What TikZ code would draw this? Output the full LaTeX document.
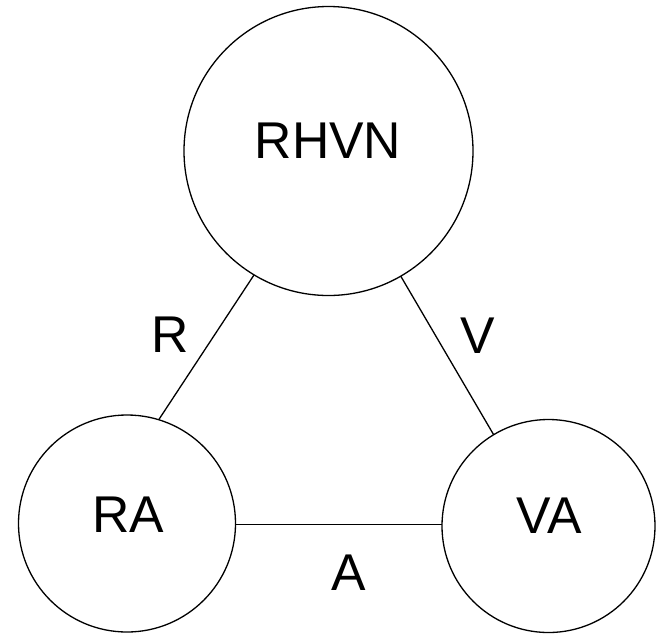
\documentclass[tikz,border=0pt]{standalone}
\usepackage{fontspec}
\setmainfont{Liberation Sans}
\begin{document}
\begin{tikzpicture}[x=1pt,y=-1pt,
  state/.style={draw, circle, line width=1.3pt, inner sep=0pt, outer sep=0pt},
  conn/.style={line width=1.3pt},
  tag/.style={inner sep=0pt, font=\fontsize{51.7}{60}\selectfont}]
  \useasboundingbox (0,0) rectangle (657,633);
  % states
  \node[state, minimum size=289pt] (top) at (328.5,151) {};
  \node[state, minimum size=217pt] (ra) at (127,523.5) {};
  \node[state, minimum size=213pt] (va) at (548.5,526) {};
  % state names
  \node[tag] (toptxt) at (328,141) {RHVN};
  \node[tag] (ratxt) at (128,515) {RA};
  \node[tag] (vatxt) at (549,516) {VA};
  % connections
  \coordinate (aleft) at (ra.east |- 0,524.3);
  \coordinate (aright) at (va.west |- 0,524.3);
  \draw[conn] (top.239) -- (ra.73);
  \draw[conn] (top.300.6) -- (va.121.5);
  \draw[conn] (aleft) -- (aright);
  % connection labels
  \node[tag] (rlab) at (170,334.7) {R};
  \node[tag] (vlab) at (478,336) {V};
  \node[tag] (alab) at (349,573) {A};
\end{tikzpicture}
\end{document}
